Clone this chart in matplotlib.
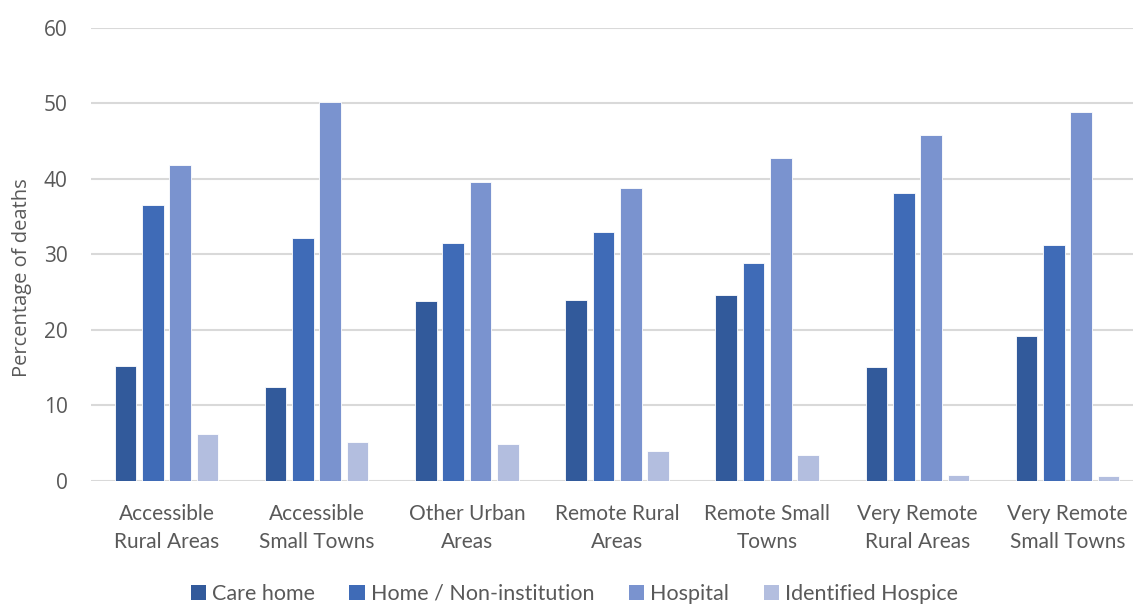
import numpy as np
import matplotlib.pyplot as plt
from matplotlib.patches import Patch

# Share of deaths by place of death, per urban/rural class
areas = ["Accessible\nRural Areas", "Accessible\nSmall Towns", "Other Urban\nAreas",
         "Remote Rural\nAreas", "Remote Small\nTowns", "Very Remote\nRural Areas",
         "Very Remote\nSmall Towns"]
care_home = [15.2, 12.4, 23.8, 24.0, 24.6, 15.1, 19.2]
home = [36.5, 32.1, 31.5, 32.9, 28.9, 38.1, 31.2]
hospital = [41.9, 50.2, 39.6, 38.8, 42.8, 45.8, 48.8]
hospice = [6.2, 5.1, 4.8, 4.0, 3.4, 0.8, 0.6]

series = ["Care home", "Home / Non-institution", "Hospital", "Identified Hospice"]
colors = ["#325A9B", "#3F6BB7", "#7A93CF", "#B3BEDF"]
text_color = "#595959"
label_font = ["Lato", "DejaVu Sans"]
axis_font = ["Open Sans", "DejaVu Sans"]

fig = plt.figure(figsize=(11.33, 6.06), dpi=100)
ax = fig.add_axes([0.0806, 0.2068, 0.928, 0.747])

x = np.arange(len(areas))
pitch = 0.182
width = 0.144
for i, (vals, col) in enumerate(zip([care_home, home, hospital, hospice], colors)):
    ax.bar(x + (i - 1.5) * pitch, vals, width=width, color=col,
           edgecolor="white", linewidth=0.6, zorder=3)

ax.set_xlim(-0.5, len(areas) - 0.5)
ax.set_ylim(0, 60)
ax.set_yticks(range(0, 61, 10))
ax.grid(axis="y", color="#D9D9D9", linewidth=1.5, zorder=0)
for s in ax.spines.values():
    s.set_visible(False)
ax.tick_params(length=0, colors=text_color)
ax.tick_params(axis="y", labelsize=15, pad=17)
for t in ax.get_yticklabels():
    t.set_family(axis_font)
ax.set_xticks(x)
ax.set_xticklabels(areas, fontsize=15, family=label_font, color=text_color,
                   linespacing=1.5)
ax.tick_params(axis="x", pad=17)
ax.set_ylabel("Percentage of deaths", fontsize=14.5, family=axis_font,
              color=text_color)
ax.yaxis.set_label_coords(-0.056, 0.448)

handles = [Patch(facecolor=c, edgecolor="none") for c in colors]
fig.legend(handles, series, loc="center", bbox_to_anchor=(0.507, 0.02), ncol=4,
           frameon=False, handlelength=0.7, handleheight=0.7, handletextpad=0.3,
           columnspacing=1.6, prop={"family": label_font, "size": 15.5},
           labelcolor=text_color)

fig.savefig("out.png", dpi=100)
